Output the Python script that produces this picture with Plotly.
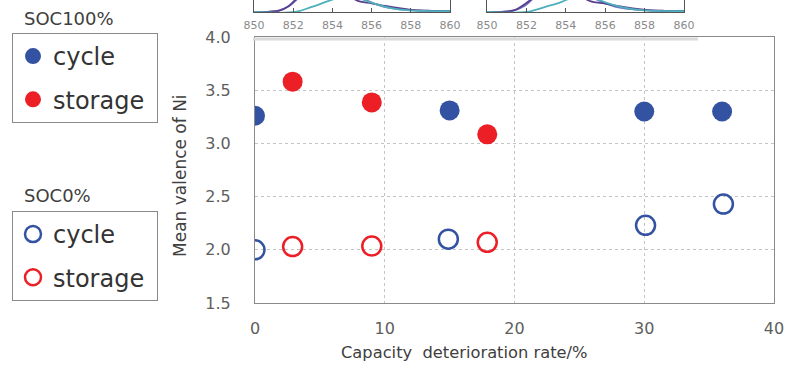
import plotly.graph_objects as go

W, H = 785, 365

# ---- main data ----
cycle100_x = [0, 15, 30, 36]
cycle100_y = [3.26, 3.31, 3.30, 3.30]
storage100_x = [2.9, 9, 17.9]
storage100_y = [3.58, 3.385, 3.085]
cycle0_x = [0, 14.9, 30.1, 36.1]
cycle0_y = [2.00, 2.10, 2.23, 2.43]
storage0_x = [2.9, 9, 17.9]
storage0_y = [2.03, 2.035, 2.07]

x_ticks = [0, 10, 20, 30, 40]
y_ticks = [1.5, 2.0, 2.5, 3.0, 3.5, 4.0]
inset_ticks = [850, 852, 854, 856, 858, 860]

# ---- cropped inset spectra (estimated, only the lower part is visible) ----
insL_purple_x = [850, 850.8, 851.3, 851.7, 852.1, 852.5, 854.0, 855.2, 856.0, 856.7, 857.5, 858.2, 859.0, 860]
insL_purple_y = [0.0, 0.03, 0.12, 0.42, 1.0, 1.6, 3.0, 1.0, 0.72, 0.5, 0.3, 0.16, 0.1, 0.07]
insL_teal_x = [850, 852.1, 852.9, 853.7, 854.3, 855.0, 855.6, 856.3, 857.0, 857.8, 858.6, 860]
insL_teal_y = [0.0, 0.0, 0.4, 0.86, 1.2, 1.6, 1.0, 0.62, 0.33, 0.15, 0.09, 0.07]
insL_blue_x = [850.5, 851.2, 851.8, 852.3, 854.0, 855.6, 856.6, 857.6, 858.6, 860]
insL_blue_y = [0.0, 0.1, 0.5, 1.2, 3.0, 1.1, 0.45, 0.2, 0.12, 0.1]

insR_purple_x = [850, 850.9, 851.4, 851.7, 852.2, 852.6, 854.0, 855.1, 856.0, 856.6, 857.4, 858.2, 859.0, 860]
insR_purple_y = [0.0, 0.03, 0.15, 0.42, 1.0, 1.6, 3.0, 1.0, 0.7, 0.5, 0.3, 0.16, 0.1, 0.07]
insR_teal_x = [850, 852.0, 853.0, 853.8, 854.3, 855.0, 855.7, 856.4, 857.1, 857.9, 858.7, 860]
insR_teal_y = [0.0, 0.0, 0.45, 0.85, 1.2, 1.6, 1.0, 0.6, 0.32, 0.15, 0.09, 0.07]
insR_blue_x = [850.5, 851.3, 851.9, 852.4, 854.0, 855.5, 856.5, 857.5, 858.5, 860]
insR_blue_y = [0.0, 0.1, 0.5, 1.2, 3.0, 1.1, 0.45, 0.2, 0.12, 0.1]

BLUE = "#3352A2"
RED = "#EC1F26"
FONT = "DejaVu Sans"

fig = go.Figure()

# main series
fig.add_trace(go.Scatter(x=cycle100_x, y=cycle100_y, mode="markers", name="cycle",
                         legend="legend", legendgroup="a",
                         marker=dict(symbol="circle", size=20, color=BLUE)))
fig.add_trace(go.Scatter(x=storage100_x, y=storage100_y, mode="markers", name="storage\u00a0",
                         legend="legend", legendgroup="b",
                         marker=dict(symbol="circle", size=20, color=RED)))
fig.add_trace(go.Scatter(x=cycle0_x, y=cycle0_y, mode="markers", name="cycle",
                         legend="legend2", legendgroup="c",
                         marker=dict(symbol="circle-open", size=19, color=BLUE,
                                     line=dict(width=2.5, color=BLUE))))
fig.add_trace(go.Scatter(x=storage0_x, y=storage0_y, mode="markers", name="storage\u00a0",
                         legend="legend2", legendgroup="d",
                         marker=dict(symbol="circle-open", size=19, color=RED,
                                     line=dict(width=2.5, color=RED))))

# inset curves
for xs, ys, col, xa, ya in [
    (insL_blue_x, insL_blue_y, "#6f74c4", "x2", "y2"),
    (insL_purple_x, insL_purple_y, "#5a3f8e", "x2", "y2"),
    (insL_teal_x, insL_teal_y, "#4fb0bd", "x2", "y2"),
    (insR_blue_x, insR_blue_y, "#6f74c4", "x3", "y3"),
    (insR_purple_x, insR_purple_y, "#5a3f8e", "x3", "y3"),
    (insR_teal_x, insR_teal_y, "#4fb0bd", "x3", "y3"),
]:
    fig.add_trace(go.Scatter(x=xs, y=ys, mode="lines", xaxis=xa, yaxis=ya,
                             showlegend=False, hoverinfo="skip",
                             line=dict(color=col, width=1.8, shape="spline")))

def px_x(p):
    return p / W

def px_y(p):
    return 1 - p / H

grid = "#c4c4c4"
frame = "#8a8a8a"

fig.update_layout(
    width=W, height=H,
    margin=dict(l=0, r=0, t=0, b=0, pad=0, autoexpand=False),
    paper_bgcolor="white", plot_bgcolor="white",
    font=dict(family=FONT, color="#404040"),
    xaxis=dict(domain=[px_x(255), px_x(774)], range=[0, 40], tickvals=x_ticks,
               showgrid=True, gridcolor=grid, griddash="3px,3px", gridwidth=1,
               zeroline=False, showline=True, linecolor=frame, linewidth=1, mirror=True,
               ticks="", ticklabelstandoff=11, automargin=False,
               tickfont=dict(size=16, color="#5e5e5e", family=FONT)),
    yaxis=dict(domain=[px_y(303), px_y(37)], range=[1.5, 4.0], tickvals=y_ticks,
               tickformat=".1f", automargin=False,
               showgrid=True, gridcolor=grid, griddash="3px,3px", gridwidth=1,
               zeroline=False, showline=True, linecolor=frame, linewidth=1, mirror=True,
               ticks="", ticklabelstandoff=20,
               tickfont=dict(size=16, color="#5e5e5e", family=FONT)),
    xaxis2=dict(domain=[px_x(254), px_x(450)], range=[850, 860], anchor="y2",
                tickvals=inset_ticks, ticks="inside", ticklen=4, tickcolor="#555",
                showgrid=False, zeroline=False, showline=True, linecolor="#555", linewidth=1.3,
                automargin=False,
                tickfont=dict(size=11, color="#8a8a8a", family=FONT), ticklabelstandoff=3),
    yaxis2=dict(domain=[px_y(12), 1], range=[0, 1], anchor="x2", automargin=False,
                showgrid=False, zeroline=False, showline=True, linecolor="#555", linewidth=1,
                mirror=True, showticklabels=False, ticks=""),
    xaxis3=dict(domain=[px_x(487), px_x(684)], range=[850, 860], anchor="y3",
                tickvals=inset_ticks, ticks="inside", ticklen=4, tickcolor="#555",
                showgrid=False, zeroline=False, showline=True, linecolor="#555", linewidth=1.3,
                automargin=False,
                tickfont=dict(size=11, color="#8a8a8a", family=FONT), ticklabelstandoff=3),
    yaxis3=dict(domain=[px_y(12), 1], range=[0, 1], anchor="x3", automargin=False,
                showgrid=False, zeroline=False, showline=True, linecolor="#555", linewidth=1,
                mirror=True, showticklabels=False, ticks=""),
    legend=dict(x=px_x(12), y=px_y(33), xanchor="left", yanchor="top",
                bordercolor=frame, borderwidth=1, bgcolor="white",
                font=dict(size=24, color="#333333", family=FONT),
                tracegroupgap=9, itemsizing="trace"),
    legend2=dict(x=px_x(12), y=px_y(211), xanchor="left", yanchor="top",
                 bordercolor=frame, borderwidth=1, bgcolor="white",
                 font=dict(size=24, color="#333333", family=FONT),
                 tracegroupgap=9, itemsizing="trace"),
    showlegend=True,
)

fig.add_annotation(x=px_x(22), y=px_y(18), xref="paper", yref="paper", xanchor="left",
                   yanchor="middle", text="SOC100%", showarrow=False,
                   font=dict(size=18, color="#404040", family=FONT))
fig.add_annotation(x=px_x(22), y=px_y(195), xref="paper", yref="paper", xanchor="left",
                   yanchor="middle", text="SOC0%", showarrow=False,
                   font=dict(size=18, color="#404040", family=FONT))
fig.add_annotation(x=px_x(464), y=px_y(352), xref="paper", yref="paper",
                   xanchor="center", yanchor="middle",
                   text="Capacity  deterioration rate/%", showarrow=False,
                   font=dict(size=16.3, color="#404040", family=FONT))
fig.add_annotation(x=px_x(180), y=px_y(176), xref="paper", yref="paper",
                   xanchor="center", yanchor="middle",
                   text="Mean valence of Ni", textangle=-90, showarrow=False,
                   font=dict(size=17, color="#404040", family=FONT))

# faint lower edge of the pasted spectra image
fig.add_shape(type="line", xref="paper", yref="paper",
              x0=px_x(253), x1=px_x(698), y0=px_y(39), y1=px_y(39),
              line=dict(color="#dadada", width=3))

fig.write_html("out.html", config={"displayModeBar": False},
               post_script="document.body.style.margin='0';document.body.style.padding='0';")
